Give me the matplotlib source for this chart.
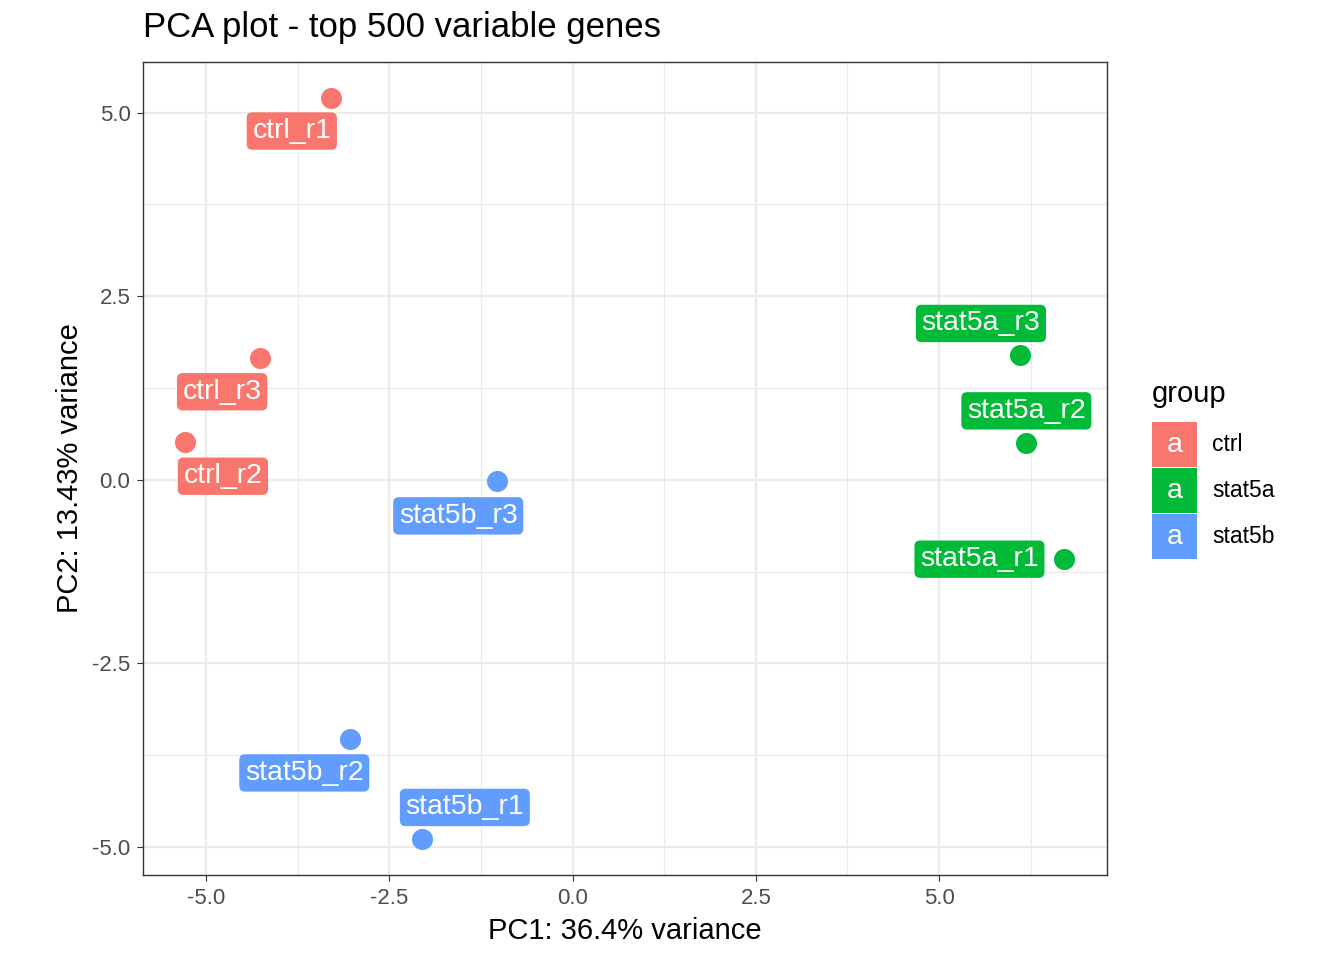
import matplotlib

matplotlib.use("agg")
import matplotlib.pyplot as plt
from matplotlib.patches import Rectangle
from matplotlib.ticker import MultipleLocator

samples = ["ctrl_r1", "ctrl_r3", "ctrl_r2", "stat5b_r3", "stat5b_r2", "stat5b_r1",
           "stat5a_r3", "stat5a_r2", "stat5a_r1"]
groups = ["ctrl", "ctrl", "ctrl", "stat5b", "stat5b", "stat5b", "stat5a", "stat5a", "stat5a"]
pc1 = [-3.29, -4.26, -5.29, -1.03, -3.04, -2.05, 6.10, 6.19, 6.70]
pc2 = [5.20, 1.66, 0.52, -0.01, -3.53, -4.89, 1.70, 0.50, -1.08]
# repelled label positions
lab_x = [-3.83, -4.78, -4.77, -1.56, -3.66, -1.47, 5.57, 6.19, 5.55]
lab_y = [4.75, 1.20, 0.05, -0.49, -3.99, -4.46, 2.13, 0.94, -1.08]

group_names = ["ctrl", "stat5a", "stat5b"]
colors = {"ctrl": "#F8766D", "stat5a": "#00BA38", "stat5b": "#619CFF"}

plt.rcParams["font.family"] = ["Liberation Sans", "DejaVu Sans"]
fig = plt.figure(figsize=(13.44, 9.6), dpi=100)
ax = fig.add_axes([143 / 1344, 1 - 875 / 960, (1107 - 143) / 1344, (875 - 62) / 960])

ax.set_xlim(-5.86, 7.29)
ax.set_ylim(-5.38, 5.69)
ax.xaxis.set_major_locator(MultipleLocator(2.5))
ax.yaxis.set_major_locator(MultipleLocator(2.5))
ax.xaxis.set_minor_locator(MultipleLocator(1.25))
ax.yaxis.set_minor_locator(MultipleLocator(1.25))
ax.grid(which="major", color="#EBEBEB", lw=1.6)
ax.grid(which="minor", color="#EBEBEB", lw=0.8)
ax.set_axisbelow(True)
for s in ax.spines.values():
    s.set_color("#333333")
    s.set_linewidth(1.0)
ax.tick_params(which="major", length=4, color="#333333", labelsize=16, labelcolor="#4D4D4D", pad=5)
ax.tick_params(which="minor", length=0)
ax.xaxis.set_major_formatter(matplotlib.ticker.FuncFormatter(lambda v, p: f"{v:.1f}"))
ax.yaxis.set_major_formatter(matplotlib.ticker.FuncFormatter(lambda v, p: f"{v:.1f}"))

for x, y, g in zip(pc1, pc2, groups):
    ax.scatter(x, y, s=230, color=colors[g], zorder=3, linewidths=0)
for name, x, y, g in zip(samples, lab_x, lab_y, groups):
    ax.text(x, y, name, ha="center", va="center", color="white", fontsize=20.5, zorder=4,
            bbox=dict(boxstyle="round,pad=0.2,rounding_size=0.2", fc=colors[g], ec="none"))

ax.set_xlabel("PC1: 36.4% variance", fontsize=21, labelpad=6)
ax.set_ylabel("PC2: 13.43% variance", fontsize=21, labelpad=6)
fig.text(143 / 1344, 1 - 28 / 960, "PCA plot - top 500 variable genes", fontsize=25, va="center")

# legend
fig.text(1152 / 1344, 1 - 394 / 960, "group", fontsize=21, va="center")
for i, g in enumerate(group_names):
    top = 422 + i * 46
    fig.patches.append(Rectangle((1152 / 1344, 1 - (top + 45) / 960), 45 / 1344, 45 / 960,
                                 transform=fig.transFigure, fc=colors[g], ec="none"))
    fig.text(1174.5 / 1344, 1 - (top + 22.5) / 960, "a", color="white", fontsize=20.5,
             ha="center", va="center")
    fig.text(1212 / 1344, 1 - (top + 22.5) / 960, g, fontsize=16.5, va="center")

fig.savefig("out.png", dpi=100)
